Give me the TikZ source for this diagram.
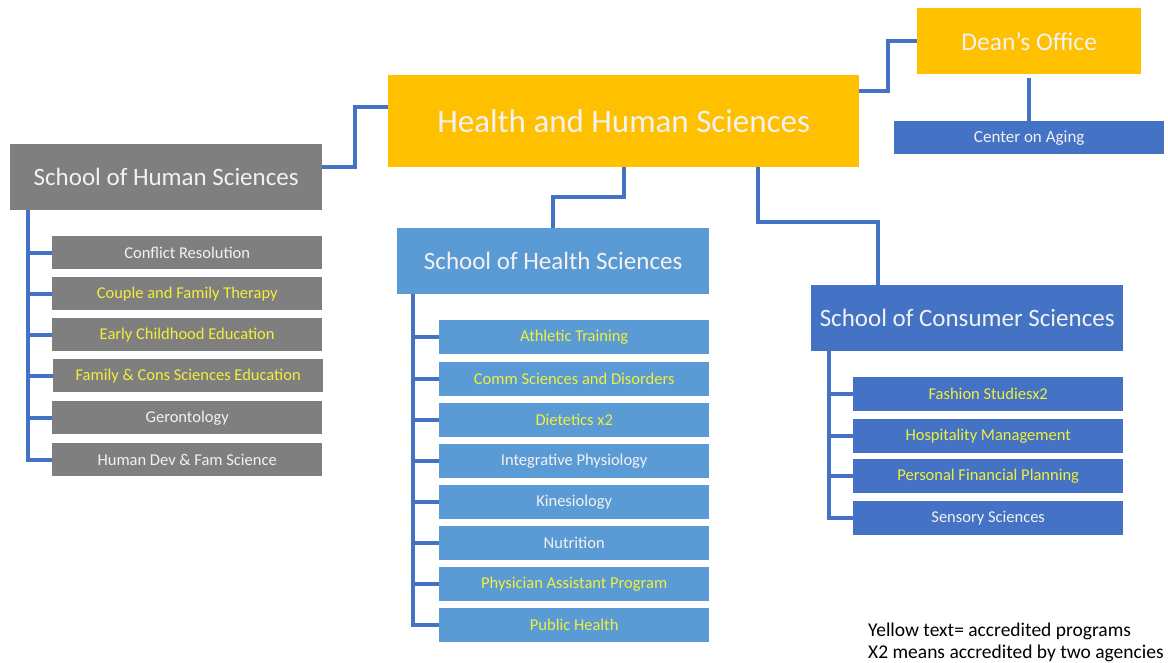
\documentclass[tikz,border=0pt]{standalone}
\usepackage{fontspec}
\setmainfont{Carlito}
\definecolor{hhsyellow}{HTML}{FFC000}
\definecolor{hgray}{HTML}{7F7F7F}
\definecolor{hlight}{HTML}{5B9BD5}
\definecolor{hblue}{HTML}{4472C4}
\definecolor{lnblue}{HTML}{4472C4}
\definecolor{acc}{HTML}{F0F03C}
\definecolor{paper}{HTML}{F2F2F2}
\tikzset{
  box/.style={anchor=north west, inner sep=0pt, text=paper},
  topbox/.style={box, fill=hhsyellow, font=\fontsize{33}{37}\selectfont},
  deanbox/.style={box, fill=hhsyellow, font=\fontsize{25.5}{29}\selectfont},
  school/.style={box, minimum width=312pt, minimum height=66pt, font=\fontsize{25}{29}\selectfont},
  prog/.style={box, minimum width=270pt, font=\fontsize{16.5}{19}\selectfont},
  hprog/.style={prog, fill=hgray, minimum height=33pt},
  lprog/.style={prog, fill=hlight, minimum height=34pt},
  bprog/.style={prog, fill=hblue, minimum height=34pt},
  accred/.style={text=acc},
  conn/.style={draw=lnblue, line width=4pt}
}
\begin{document}
\begin{tikzpicture}[x=1pt, y=-1pt]
\useasboundingbox (0,0) rectangle (1168,663);

% top level
\node[topbox, minimum width=471pt, minimum height=92pt] (hhs) at (388,75) {Health and Human Sciences};
\node[deanbox, minimum width=224pt, minimum height=66pt] (dean) at (917,8) {Dean’s Office};
\node[bprog, fill=hblue, minimum height=33pt, font=\fontsize{17}{20}\selectfont] (aging) at (894,121) {Center on Aging};

% schools
\node[school, fill=hgray] (shs) at (10,144) {School of Human Sciences};
\node[school, fill=hlight] (shealth) at (397,228) {School of Health Sciences};
\node[school, fill=hblue] (scons) at (811,285) {School of Consumer Sciences};

% School of Human Sciences programs
\node[hprog] (h1) at (52,236) {Conflict Resolution};
\node[hprog, accred] (h2) at (52,277) {Couple and Family Therapy};
\node[hprog, accred] (h3) at (52,318) {Early Childhood Education};
\node[hprog, accred] (h4) at (53,359) {Family \& Cons Sciences Education};
\node[hprog] (h5) at (52,401) {Gerontology};
\node[hprog] (h6) at (52,443) {Human Dev \& Fam Science};

% School of Health Sciences programs
\node[lprog, accred] (l1) at (439,320) {Athletic Training};
\node[lprog, accred] (l2) at (439,362) {Comm Sciences and Disorders};
\node[lprog, accred] (l3) at (439,403) {Dietetics x2};
\node[lprog] (l4) at (439,444) {Integrative Physiology};
\node[lprog] (l5) at (439,485) {Kinesiology};
\node[lprog] (l6) at (439,526) {Nutrition};
\node[lprog, accred] (l7) at (439,567) {Physician Assistant Program};
\node[lprog, accred] (l8) at (439,608) {Public Health};

% School of Consumer Sciences programs
\node[bprog, accred] (b1) at (853,377) {Fashion Studiesx2};
\node[bprog, accred] (b2) at (853,419) {Hospitality Management};
\node[bprog, accred] (b3) at (853,459) {Personal Financial Planning};
\node[bprog] (b4) at (853,501) {Sensory Sciences};

% connectors from the college box
\draw[conn] ([yshift=14pt]hhs.west) -- ++(-33,0) |- ([yshift=10pt]shs.east);
\draw[conn] ([yshift=30pt]hhs.east) -- ++(29,0) |- (dean.west);
\draw[conn] ([yshift=-4pt]dean.south) -- (aging.north);
\draw[conn] (hhs.south) -- ++(0,30) -| (shealth.north);
\draw[conn] ([xshift=134.5pt]hhs.south) -- ++(0,55) -| ([xshift=-89pt]scons.north);

% program connectors
\foreach \p in {h1,h2,h3,h4,h5,h6}
  \draw[conn] ([xshift=18pt]shs.south west) |- (\p.west);
\foreach \p in {l1,l2,l3,l4,l5,l6,l7,l8}
  \draw[conn] ([xshift=16pt]shealth.south west) |- (\p.west);
\foreach \p in {b1,b2,b3,b4}
  \draw[conn] ([xshift=18pt]scons.south west) |- (\p.west);

% legend
\node[anchor=north west, align=left, inner sep=0pt, font=\fontsize{19.5}{22}\selectfont] (legend) at (868,623)
  {Yellow text= accredited programs\\X2 means accredited by two agencies};
\end{tikzpicture}
\end{document}
